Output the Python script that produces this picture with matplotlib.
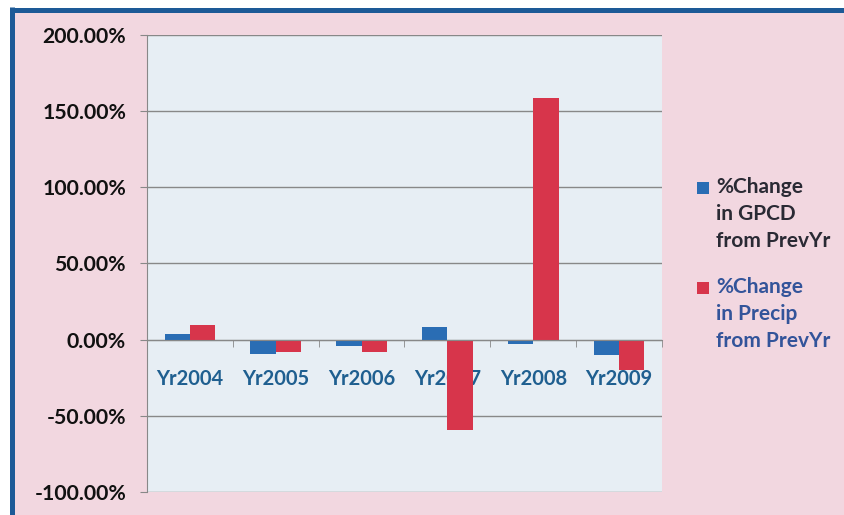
import matplotlib.pyplot as plt
from matplotlib.patches import Rectangle
from matplotlib.lines import Line2D
from matplotlib.ticker import FuncFormatter, MultipleLocator

plt.rcParams['font.family'] = ['Lato', 'DejaVu Sans']

years = ['Yr2004', 'Yr2005', 'Yr2006', 'Yr2007', 'Yr2008', 'Yr2009']
gpcd_change = [3.4, -9.5, -3.9, 8.4, -2.9, -10.2]
precip_change = [9.3, -7.9, -8.4, -59.0, 158.6, -20.0]
series_names = ['%Change\nin GPCD\nfrom PrevYr', '%Change\nin Precip\nfrom PrevYr']

blue = '#2a6db4'
red = '#d7354b'
pink = '#f2d7e0'
frame_blue = '#1d5a97'

W, H = 845, 515
fig = plt.figure(figsize=(W / 100, H / 100), dpi=100)
fig.patch.set_facecolor('white')

# pink chart area with the dark blue frame on top and left
fig.add_artist(Rectangle((12 / W, 0), 1, 1 - 10 / H, transform=fig.transFigure,
                         facecolor=pink, edgecolor='none', zorder=0))
fig.add_artist(Line2D([12 / W, 1], [1 - 9.5 / H] * 2, transform=fig.transFigure,
                      color=frame_blue, lw=3.6, solid_capstyle='butt'))
fig.add_artist(Line2D([12.5 / W] * 2, [0, 1 - 7 / H], transform=fig.transFigure,
                      color=frame_blue, lw=3.6, solid_capstyle='butt'))

ax = fig.add_axes([147 / W, 1 - 492 / H, (662 - 147) / W, (492 - 35) / H])
ax.set_facecolor('#e7eef4')
ax.set_axisbelow(True)

x = list(range(len(years)))
w = 0.295
ax.bar([i - w / 2 for i in x], gpcd_change, width=w, color=blue, zorder=3)
ax.bar([i + w / 2 for i in x], precip_change, width=w, color=red, zorder=3)

ax.set_xlim(-0.5, len(years) - 0.5)
ax.set_ylim(-100, 200)
ax.yaxis.set_major_locator(MultipleLocator(50))
ax.yaxis.set_major_formatter(FuncFormatter(lambda v, p: f'{v:.2f}%'))
ax.grid(axis='y', color='#888888', lw=1.0)

for s in ['top', 'right']:
    ax.spines[s].set_visible(False)
ax.spines['left'].set_color('#888888')
ax.spines['bottom'].set_position(('data', 0))
ax.spines['bottom'].set_color('#888888')
ax.spines['bottom'].set_zorder(4)

ax.set_xticks(x)
ax.set_xticklabels(years)
ax.set_xticks([i - 0.5 for i in range(len(years) + 1)], minor=True)
ax.tick_params(axis='x', which='major', length=0, pad=21, labelsize=14.5,
               labelcolor='#1f5f90')
ax.tick_params(axis='x', which='minor', length=5, direction='out', color='#888888')
ax.tick_params(axis='y', length=5, color='#888888', pad=10, labelsize=15.3,
               labelcolor='#111111')
for lbl in ax.get_xticklabels() + ax.get_yticklabels():
    lbl.set_fontweight('bold')

# legend: square aligned with the first text line
entries = [(blue, '#2a2a34', 182), (red, '#33549a', 282)]
for (col, tcol, ytop), name in zip(entries, series_names):
    fig.add_artist(Rectangle((697 / W, 1 - (ytop + 12) / H), 12 / W, 12 / H,
                             transform=fig.transFigure, facecolor=col, edgecolor='none'))
    fig.text(716 / W, 1 - (ytop - 5) / H, name, ha='left', va='top', fontsize=15,
             fontweight='bold', color=tcol, linespacing=1.45)

fig.savefig('out.png', dpi=100)
